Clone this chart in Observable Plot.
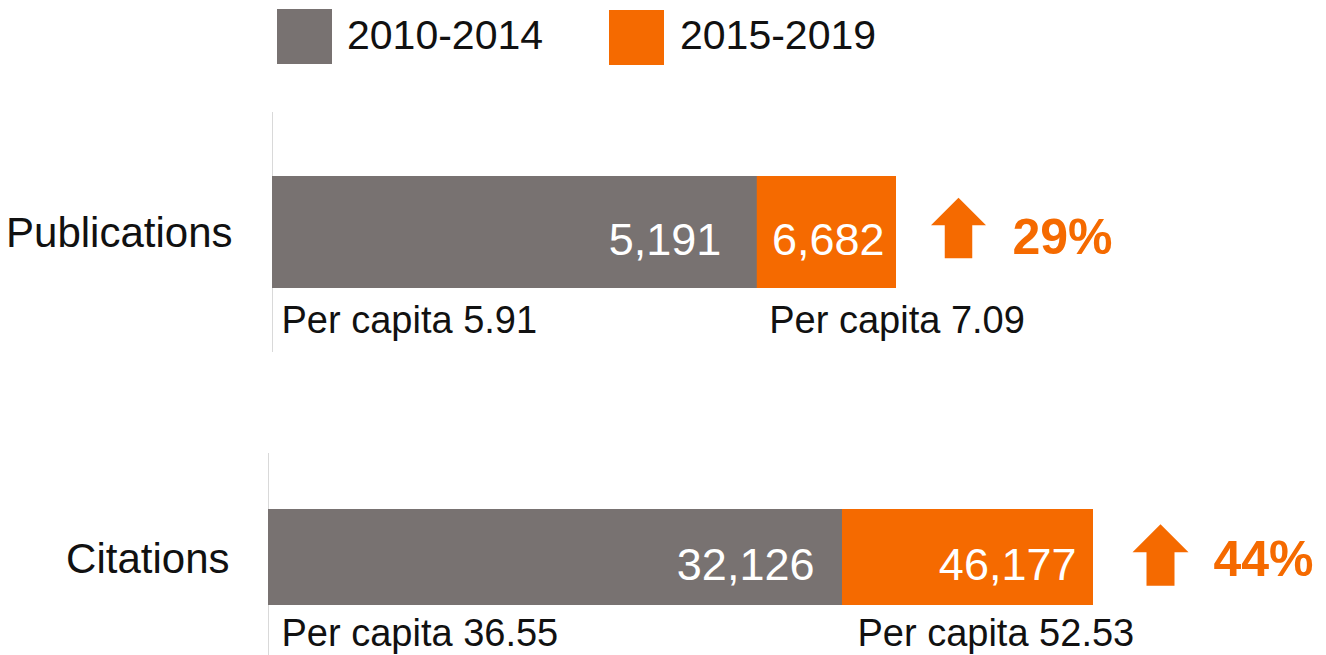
<!DOCTYPE html>
<html><head><meta charset="utf-8">
<script src="https://cdn.jsdelivr.net/npm/d3@7"></script>
<script src="https://cdn.jsdelivr.net/npm/@observablehq/plot@0.6"></script>
<style>
body{margin:0;background:#fff;font-family:"Liberation Sans",Arial,sans-serif;width:1326px;height:655px;overflow:hidden}
#legend{position:relative;height:80px}
.sw{position:absolute;width:55px;height:55px}
.lt{position:absolute;font-size:41px;line-height:1;color:#111;white-space:nowrap}
#chart svg{display:block}
</style></head><body>
<div id="legend"></div><div id="chart"></div>
<script>
// ---- data ----
const categories = ["Publications", "Citations"];
const periods = ["2010-2014", "2015-2019"];
const values2010 = [5191, 32126];
const values2015 = [6682, 46177];
const perCapita2010 = [5.91, 36.55];
const perCapita2015 = [7.09, 52.53];
const growth = ["29%", "44%"];

// ---- styles / layout ----
const colors = ["#787271", "#f56a00"];
const legendPos = [{sw: [277, 9], tx: 347}, {sw: [609, 10], tx: 680}];
const layout = [
  {height: 300, marginTop: 32, marginBottom: 28, marginLeft: 272, marginRight: 430, barInsetTop: 64, barInsetBottom: 64, off: 0,
   catDx: -40, catDy: 1, v1Dx: -36, v2Dx: -12, valDy: 7.7, pc1Dx: 9, pc2Dx: 12, pcDy: 88,
   arrowDx: 62, arrowDy: -4.5, arrowR: 27.5, pctDx: 116, pctDy: 5},
  {height: 275, marginTop: 73, marginBottom: 0, marginLeft: 268, marginRight: 233, barInsetTop: 56, barInsetBottom: 50, off: 3,
   catDx: -39, catDy: 2, v1Dx: -28, v2Dx: -17, valDy: 7.7, pc1Dx: 13, pc2Dx: 15, pcDy: 76,
   arrowDx: 67, arrowDy: -2.5, arrowR: 28, pctDx: 120, pctDy: 2.4}
];

// legend
const legend = document.getElementById("legend");
periods.forEach((p, i) => {
  const s = document.createElement("div");
  s.className = "sw";
  s.style.left = legendPos[i].sw[0] + "px";
  s.style.top = legendPos[i].sw[1] + "px";
  s.style.background = colors[i];
  legend.appendChild(s);
  const t = document.createElement("div");
  t.className = "lt";
  t.style.left = legendPos[i].tx + "px";
  t.style.top = "15px";
  t.textContent = p;
  legend.appendChild(t);
});

const arrowSymbol = {
  draw(ctx, size) {
    const r = Math.sqrt(size / Math.PI);
    ctx.moveTo(0, -1.1 * r);
    ctx.lineTo(r, -0.1 * r);
    ctx.lineTo(0.5 * r, -0.1 * r);
    ctx.lineTo(0.5 * r, 1.1 * r);
    ctx.lineTo(-0.5 * r, 1.1 * r);
    ctx.lineTo(-0.5 * r, -0.1 * r);
    ctx.lineTo(-r, -0.1 * r);
    ctx.closePath();
  }
};

const fmt = d3.format(",");
const chart = document.getElementById("chart");
categories.forEach((cat, i) => {
  const L = layout[i];
  const o = L.off;
  const row = [{cat, v2010: values2010[i], v2015: values2015[i],
    pc2010: perCapita2010[i], pc2015: perCapita2015[i], growth: growth[i]}];
  const plot = Plot.plot({
    width: 1326,
    height: L.height,
    marginTop: L.marginTop,
    marginBottom: L.marginBottom,
    marginLeft: L.marginLeft,
    marginRight: L.marginRight,
    style: {fontFamily: "Liberation Sans, Arial, sans-serif", overflow: "visible", background: "transparent"},
    x: {domain: [0, row[0].v2015], axis: null},
    y: {domain: [cat], axis: null, padding: 0},
    marks: [
      Plot.ruleX(row, {x: 0, stroke: "#d9d9d9", strokeWidth: 1}),
      Plot.barX(row, {x1: 0, x2: "v2015", y: "cat", fill: colors[1], insetTop: L.barInsetTop, insetBottom: L.barInsetBottom}),
      Plot.barX(row, {x1: 0, x2: "v2010", y: "cat", fill: colors[0], insetTop: L.barInsetTop, insetBottom: L.barInsetBottom}),
      Plot.text(row, {x: 0, y: "cat", text: "cat", textAnchor: "end", dx: L.catDx, dy: L.catDy + o, fontSize: 42, fill: "#111"}),
      Plot.text(row, {x: "v2010", y: "cat", text: d => fmt(d.v2010), textAnchor: "end", dx: L.v1Dx, dy: L.valDy + o, fontSize: 45, fill: "white"}),
      Plot.text(row, {x: "v2015", y: "cat", text: d => fmt(d.v2015), textAnchor: "end", dx: L.v2Dx, dy: L.valDy + o, fontSize: 45, fill: "white"}),
      Plot.text(row, {x: 0, y: "cat", text: d => "Per capita " + d.pc2010.toFixed(2), textAnchor: "start", dx: L.pc1Dx, dy: L.pcDy + o, fontSize: 38, fill: "#111"}),
      Plot.text(row, {x: "v2010", y: "cat", text: d => "Per capita " + d.pc2015.toFixed(2), textAnchor: "start", dx: L.pc2Dx, dy: L.pcDy + o, fontSize: 38, fill: "#111"}),
      Plot.dot(row, {x: "v2015", y: "cat", symbol: arrowSymbol, r: L.arrowR, fill: colors[1], stroke: "none", dx: L.arrowDx, dy: L.arrowDy + o}),
      Plot.text(row, {x: "v2015", y: "cat", text: "growth", textAnchor: "start", dx: L.pctDx, dy: L.pctDy + o, fontSize: 50, fontWeight: "bold", fill: colors[1]})
    ]
  });
  chart.appendChild(plot);
});
</script>
</body></html>
